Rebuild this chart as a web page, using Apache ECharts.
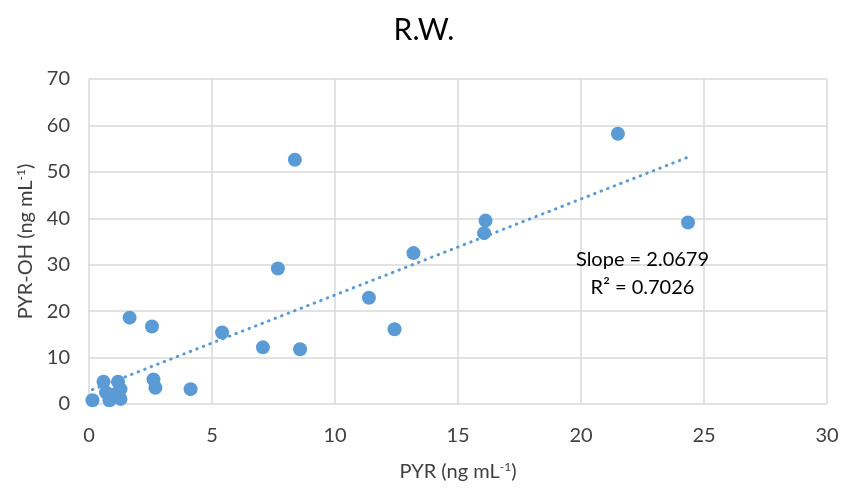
<!DOCTYPE html>
<html>
<head>
<meta charset="utf-8">
<script src="https://cdn.jsdelivr.net/npm/echarts@6/dist/echarts.min.js"></script>
<style>
  html, body { margin: 0; padding: 0; background: #fff; }
  #chart { width: 848px; height: 490px; }
</style>
</head>
<body>
<div id="chart"></div>
<script>
// PYR vs PYR-OH, R.W.
var pyr = [0.14, 0.59, 1.18, 0.69, 0.83, 1.28, 1.28, 1.0, 0.9,
  1.65, 2.56, 2.62, 2.70, 4.13, 5.41, 7.07, 7.68, 8.37, 8.58,
  11.38, 12.42, 13.19, 16.12, 16.06, 21.5, 24.35];
var pyrOH = [0.8, 4.8, 4.8, 2.5, 0.8, 3.2, 1.1, 2.0, 1.6,
  18.6, 16.7, 5.3, 3.5, 3.2, 15.4, 12.2, 29.2, 52.6, 11.8,
  22.9, 16.1, 32.5, 39.5, 36.8, 58.2, 39.1];
var slope = 2.0679;
var intercept = 2.8;
var r2 = 0.7026;

var points = pyr.map(function (x, i) { return [x, pyrOH[i]]; });
var xMin = Math.min.apply(null, pyr), xMax = Math.max.apply(null, pyr);
var trend = [[xMin, slope * xMin + intercept], [xMax, slope * xMax + intercept]];

var blue = "#5b9bd5";
var font = "Lato, 'Open Sans', sans-serif";
var myChart = echarts.init(document.getElementById("chart"));

var option = {
  animation: false,
  title: {
    text: "R.W.",
    left: "center",
    top: 10,
    textStyle: { fontFamily: font, fontSize: 30, fontWeight: "normal", color: "#000" },
  },
  grid: { left: 89, right: 21, top: 79, bottom: 86 },
  xAxis: {
    type: "value",
    min: 0, max: 30, interval: 5,
    name: "{a|PYR (ng mL}{s|-1}{a|)}",
    nameLocation: "middle",
    nameGap: 57,
    nameTextStyle: {
      rich: {
        a: { fontFamily: font, fontSize: 20, color: "#404040" },
        s: { fontFamily: font, fontSize: 12, color: "#404040", padding: [0, 0, 10, 0] },
      },
    },
    axisLine: { show: false },
    axisTick: { show: false },
    axisLabel: { fontFamily: font, fontSize: 20, color: "#404040", margin: 22 },
    splitLine: { lineStyle: { color: "#d9d9d9", width: 1.5 } },
  },
  yAxis: {
    type: "value",
    min: 0, max: 70, interval: 10,
    name: "{a|PYR-OH (ng mL}{s|-1}{a|)}",
    nameLocation: "middle",
    nameGap: 52,
    nameRotate: 90,
    nameTextStyle: {
      rich: {
        a: { fontFamily: font, fontSize: 20, color: "#404040" },
        s: { fontFamily: font, fontSize: 12, color: "#404040", padding: [0, 0, 10, 0] },
      },
    },
    axisLine: { show: false },
    axisTick: { show: false },
    axisLabel: { fontFamily: font, fontSize: 20, color: "#404040", margin: 19 },
    splitLine: { lineStyle: { color: "#d9d9d9", width: 1.5 } },
  },
  series: [
    {
      type: "line",
      data: trend,
      symbol: "none",
      z: 1,
      lineStyle: { color: blue, width: 3, type: [0.5, 6.5], cap: "round" },
    },
    {
      type: "scatter",
      data: points,
      symbolSize: 14,
      z: 2,
      itemStyle: { color: blue, opacity: 1 },
    },
  ],
};
myChart.setOption(option);

// regression label
var pos = myChart.convertToPixel({ gridIndex: 0 }, [22.5, 28.1]);
myChart.setOption({
  graphic: [
    {
      type: "text",
      x: pos[0], y: pos[1],
      style: {
        text: "Slope = " + slope.toFixed(4) + "\nR² = " + r2.toFixed(4),
        fontFamily: font, fontSize: 20, fill: "#000",
        align: "center", verticalAlign: "middle", lineHeight: 28,
      },
    },
  ],
});
</script>
</body>
</html>
